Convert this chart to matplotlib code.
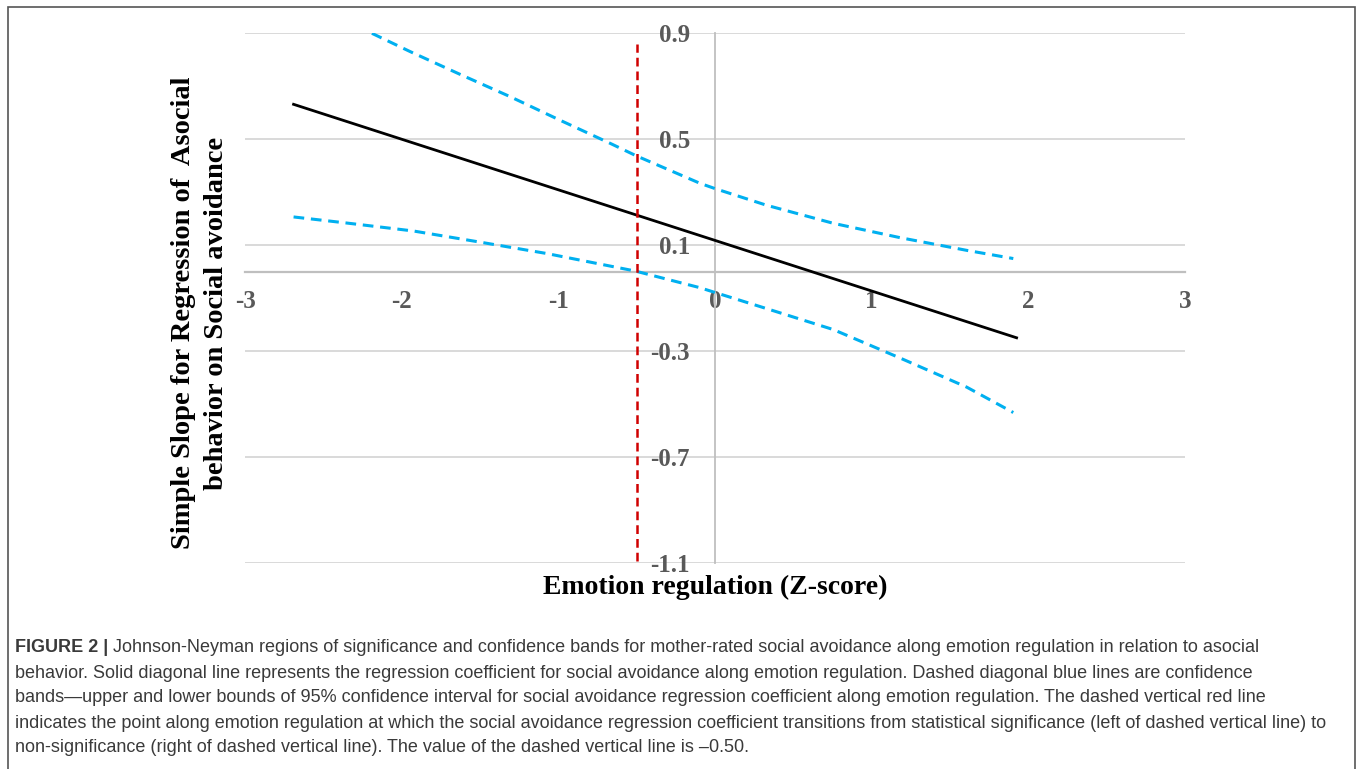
import matplotlib
matplotlib.use("Agg")
import matplotlib.pyplot as plt
from matplotlib.patches import Rectangle

# valores
x_reta = [-2.69, 1.925]
y_reta = [0.632, -0.249]

x_sup = [-2.19, -1.946, -1.627, -1.308, -0.989, -0.67, -0.5, -0.096, 0.0, 0.33, 0.755, 1.18, 1.606, 1.904]
y_sup = [0.90, 0.831, 0.745, 0.661, 0.572, 0.485, 0.437, 0.334, 0.314, 0.251, 0.183, 0.129, 0.081, 0.050]

x_inf = [-2.69, -2.35, -1.925, -1.50, -1.074, -0.51, -0.096, 0.0, 0.33, 0.755, 1.18, 1.606, 1.904]
y_inf = [0.207, 0.184, 0.154, 0.112, 0.069, 0.003, -0.060, -0.078, -0.139, -0.218, -0.325, -0.435, -0.531]

x_jn = [-0.50, -0.50]
y_jn = [-1.09, 0.86]

xticks = [-3, -2, -1, 0, 1, 2, 3]
yticks = [-1.1, -0.7, -0.3, 0.1, 0.5, 0.9]
ytick_labels = ["-1.1", "-0.7", "-0.3", "0.1", "0.5", "0.9"]

serif = "Liberation Serif"
sans = "Liberation Sans"

fig = plt.figure(figsize=(13.57, 7.69), dpi=100)
ax = fig.add_axes([245 / 1357, 1 - 563.3 / 769, 940 / 1357, 530 / 769])

ax.set_xlim(-3, 3)
ax.set_ylim(-1.1, 0.9)

for yt in yticks:
    ax.axhline(yt, color="#d9d9d9", lw=1.4, zorder=0)

for s in ["top", "right"]:
    ax.spines[s].set_visible(False)
ax.spines["left"].set_position(("data", 0))
ax.spines["bottom"].set_position(("data", 0))
ax.spines["left"].set_color("#bfbfbf")
ax.spines["bottom"].set_color("#bfbfbf")
ax.spines["left"].set_linewidth(1.3)
ax.spines["bottom"].set_linewidth(1.6)

ax.set_xticks(xticks)
ax.set_xticklabels([str(t) for t in xticks])
ax.set_yticks(yticks)
ax.set_yticklabels(ytick_labels)
ax.tick_params(axis="both", length=0, labelcolor="#595959")
ax.tick_params(axis="x", pad=13)
ax.tick_params(axis="y", pad=18)
for lab in ax.get_xticklabels() + ax.get_yticklabels():
    lab.set_fontfamily(serif)
    lab.set_fontweight("bold")
    lab.set_fontsize(18)

ax.plot(x_sup, y_sup, color="#00b0f0", lw=2.2, ls=(0, (3.5, 2.2)), zorder=3)
ax.plot(x_inf, y_inf, color="#00b0f0", lw=2.2, ls=(0, (3.5, 2.2)), zorder=3)
ax.plot(x_reta, y_reta, color="black", lw=2.0, zorder=4)
ax.plot(x_jn, y_jn, color="#d00000", lw=1.8, ls=(0, (3.5, 2.0)), zorder=5, clip_on=False)

fig.text(715 / 1357, 1 - 594 / 769, "Emotion regulation (Z-score)", ha="center", va="baseline",
         fontfamily=serif, fontweight="bold", fontsize=20)
fig.text(200 / 1357, 1 - 313 / 769, "Simple Slope for Regression of  Asocial\nbehavior on Social avoidance",
         ha="center", va="center", rotation=90, fontfamily=serif, fontweight="bold",
         fontsize=20.5, linespacing=1.45)

# moldura
fig.patches.append(Rectangle((8 / 1357, -0.02), 1347 / 1357, 1 - 7 / 769 + 0.02,
                             transform=fig.transFigure, fill=False, edgecolor="#555555", lw=1.2))

# legenda da figura
cor = "#3a3a3a"
linhas = [
    "Johnson-Neyman regions of significance and confidence bands for mother-rated social avoidance along emotion regulation in relation to asocial",
    "behavior. Solid diagonal line represents the regression coefficient for social avoidance along emotion regulation. Dashed diagonal blue lines are confidence",
    "bands\u2014upper and lower bounds of 95% confidence interval for social avoidance regression coefficient along emotion regulation. The dashed vertical red line",
    "indicates the point along emotion regulation at which the social avoidance regression coefficient transitions from statistical significance (left of dashed vertical line) to",
    "non-significance (right of dashed vertical line). The value of the dashed vertical line is \u20130.50.",
]
ys = [648, 673, 698, 723, 748]
x0 = 15 / 1357
tb = fig.text(x0, 1 - ys[0] / 769, "FIGURE 2 | ", ha="left", va="center", fontfamily=sans,
              fontweight="bold", fontsize=13, color=cor)
fig.canvas.draw()
bb = tb.get_window_extent(fig.canvas.get_renderer())
fig.text(bb.x1 / 1357, 1 - ys[0] / 769, linhas[0], ha="left", va="center", fontfamily=sans,
         fontsize=13, color=cor)
for t, y in zip(linhas[1:], ys[1:]):
    fig.text(x0, 1 - y / 769, t, ha="left", va="center", fontfamily=sans, fontsize=13, color=cor)

plt.savefig("out.png", dpi=100)
